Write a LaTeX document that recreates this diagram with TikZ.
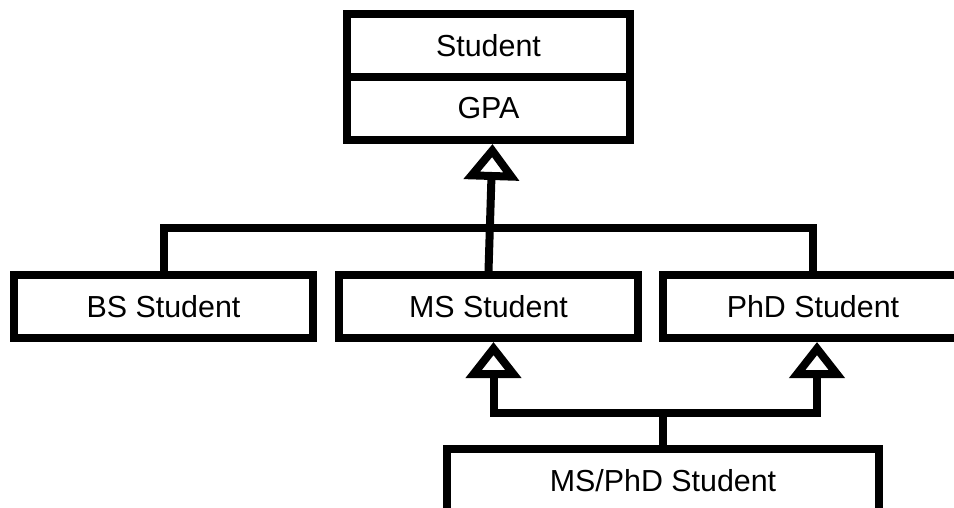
\documentclass[tikz,border=0pt]{standalone}
\usepackage{fontspec}
\setmainfont{Liberation Sans}
\usetikzlibrary{arrows.meta, calc}
\tikzset{
    classe/.style={draw=black, line width=4pt, fill=white, inner sep=0pt,
        minimum width=149.5pt, minimum height=31.5pt,
        font=\fontsize{15.2}{18}\selectfont},
    ligacao/.style={draw=black, line width=4pt},
    heranca/.style={ligacao, -{Triangle[open, length=18pt, width=27pt]}}
}

\begin{document}
\begin{tikzpicture}[x=0.5pt, y=-0.5pt]
    \useasboundingbox (0,0) rectangle (954,508);
    \clip (0,0) rectangle (954,508);
    % superclasse
    \node[classe, minimum width=141.5pt] (student) at (488.5,45.5) {Student};
    \node[classe, minimum width=141.5pt] (gpa) at (488.5,108.5) {GPA};
    % subclasses
    \node[classe] (bs) at (163.5,306.5) {BS Student};
    \node[classe] (ms) at (488.5,306.5) {MS Student};
    \node[classe, minimum width=150pt] (phd) at (813,306.5) {PhD Student};
    \node[classe, minimum width=216pt] (msphd) at (663,480.5) {MS/PhD Student};
    \coordinate (barra) at (0,228);
    \coordinate (juncao) at (0,413);
    % heranca simples
    \draw[ligacao] (bs.north) -- (bs.north |- barra) -- (phd.north |- barra) -- (phd.north);
    \draw[heranca] (ms.north) -- ([xshift=2pt]gpa.south);
    % heranca multipla
    \draw[heranca] (msphd.north) -- (msphd.north |- juncao) -| ([xshift=2.5pt]ms.south);
    \draw[heranca] (msphd.north) -- (msphd.north |- juncao) -| ([xshift=2pt]phd.south);
\end{tikzpicture}
\end{document}
